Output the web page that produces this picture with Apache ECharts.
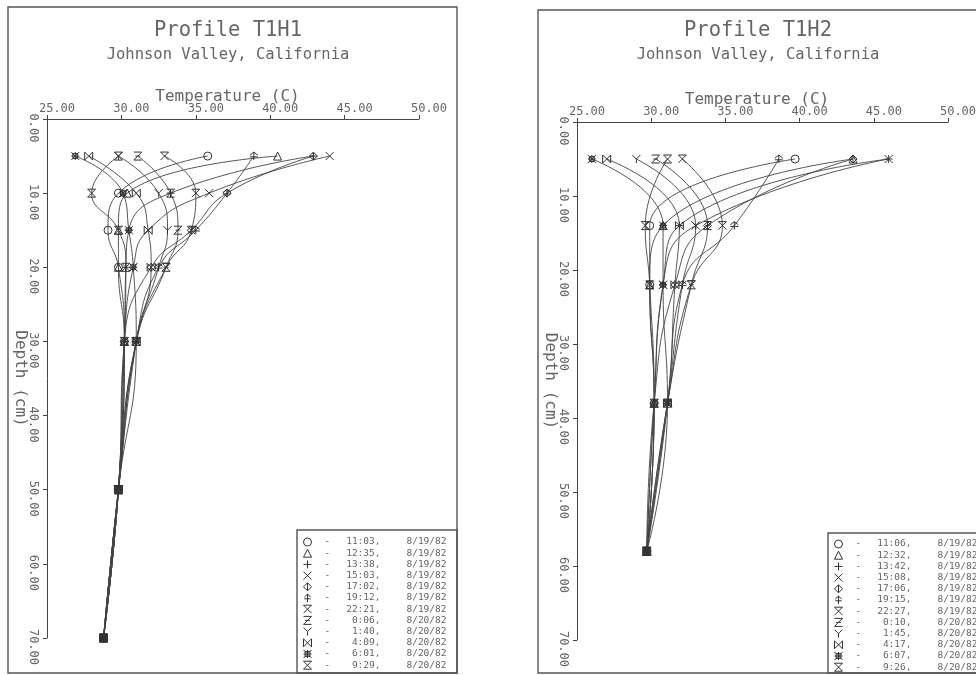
<!DOCTYPE html>
<html>
<head>
<meta charset="utf-8">
<script src="https://cdn.jsdelivr.net/npm/echarts@6/dist/echarts.min.js"></script>
<style>
  html, body { margin: 0; background: #fff; }
  #chart { width: 976px; height: 675px; }
</style>
</head>
<body>
<div id="chart"></div>
<script>
// depths (cm) sampled in each profile
const depthsH1 = [5, 10, 15, 20, 30, 50, 70]
const depthsH2 = [5, 14, 22, 38, 58]

const timesH1 = ['11:03', '12:35', '13:38', '15:03', '17:02', '19:12', '22:21', '0:06', '1:40', '4:09', '6:01', '9:29']
const datesH1 = ['8/19/82', '8/19/82', '8/19/82', '8/19/82', '8/19/82', '8/19/82', '8/19/82', '8/20/82', '8/20/82', '8/20/82', '8/20/82', '8/20/82']
const timesH2 = ['11:06', '12:32', '13:42', '15:08', '17:06', '19:15', '22:27', '0:10', '1:45', '4:17', '6:07', '9:26']
const datesH2 = datesH1

// temperature (C) at each depth, one row per time
const tempsH1 = [
  [35.8, 29.8, 29.1, 29.8, 30.2, 29.8, 28.8],
  [40.5, 30.4, 29.8, 29.8, 30.2, 29.8, 28.8],
  [42.9, 33.3, 30.5, 30.3, 30.2, 29.8, 28.8],
  [44.0, 35.9, 31.8, 30.8, 30.2, 29.8, 28.8],
  [42.9, 37.1, 34.7, 32.0, 30.2, 29.8, 28.8],
  [38.9, 37.1, 35.0, 32.5, 31.0, 29.8, 28.8],
  [32.9, 35.0, 34.7, 33.0, 31.0, 29.8, 28.8],
  [31.1, 33.3, 33.8, 33.0, 31.0, 29.8, 28.8],
  [29.8, 32.5, 33.1, 32.5, 31.0, 29.8, 28.8],
  [27.8, 31.0, 31.8, 32.0, 31.0, 29.8, 28.8],
  [26.9, 30.1, 30.5, 30.8, 31.0, 29.8, 28.8],
  [29.8, 28.0, 29.8, 30.3, 30.2, 29.8, 28.8]
]
const tempsH2 = [
  [39.7, 29.9, 29.9, 30.2, 29.7],
  [43.6, 30.8, 29.9, 30.2, 29.7],
  [46.0, 31.9, 30.8, 30.2, 29.7],
  [46.0, 33.0, 30.8, 30.2, 29.7],
  [43.6, 33.8, 31.6, 30.2, 29.7],
  [38.6, 35.6, 32.1, 31.1, 29.7],
  [32.1, 34.8, 32.7, 31.1, 29.7],
  [30.3, 33.8, 32.7, 31.1, 29.7],
  [29.0, 33.0, 32.1, 31.1, 29.7],
  [27.0, 31.9, 31.6, 31.1, 29.7],
  [26.0, 30.8, 30.8, 31.1, 29.7],
  [31.1, 29.6, 29.9, 30.2, 29.7]
]

const tempTicks = [25, 50, 5]
const depthTicks = [0, 70, 10]

// plotter marks, same order as the times
const marks = [
  'path://M0,5A5,5,0,1,0,10,5A5,5,0,1,0,0,5Z',
  'path://M5,0L10,10L0,10Z',
  'path://M5,0L5,10M0,5L10,5',
  'path://M0,0L10,10M10,0L0,10',
  'path://M5,0L10,5L5,10L0,5ZM5,0L5,10',
  'path://M5,0L5,10M1,6L9,6M1,4L5,0L9,4',
  'path://M0,0L10,0M0,0L10,10M10,0L0,10',
  'path://M0,0L10,0L0,10L10,10M2,5L8,5',
  'path://M0,0L5,5L10,0M5,5L5,10',
  'path://M0,0L0,10M10,0L10,10M0,0L10,10M10,0L0,10',
  'path://M0,0L10,10M10,0L0,10M5,0L5,10M0,5L10,5M2,2L8,2L8,8L2,8Z',
  'path://M0,0L10,0M0,10L10,10M0,0L10,10M10,0L0,10'
]

const FONT = 'DejaVu Sans Mono'
const TXT = '#666'
const INK = '#444'

const chart = echarts.init(document.getElementById('chart'))

const mkX = (idx) => ({
  gridIndex: idx, type: 'value', position: 'top',
  min: tempTicks[0], max: tempTicks[1], interval: tempTicks[2],
  name: 'Temperature (C)', nameLocation: 'middle', nameGap: 14, nameMoveOverlap: false,
  nameTextStyle: { fontFamily: FONT, fontSize: 16, color: TXT, padding: [0, 11, 0, 0] },
  axisLine: { show: true, onZero: false, lineStyle: { color: INK, width: 1 } },
  axisTick: { show: true, length: 4, lineStyle: { color: INK } },
  axisLabel: { formatter: v => v.toFixed(2), fontFamily: FONT, fontSize: 12, color: TXT, margin: 4, padding: [0, 0, 0, 20] },
  splitLine: { show: false }
})

const mkY = (idx) => ({
  gridIndex: idx, type: 'value', inverse: true,
  min: depthTicks[0], max: depthTicks[1], interval: depthTicks[2],
  name: 'Depth (cm)', nameLocation: 'middle', nameRotate: -90, nameGap: 19, nameMoveOverlap: false,
  nameTextStyle: { fontFamily: FONT, fontSize: 16, color: TXT },
  axisLine: { show: true, onZero: false, lineStyle: { color: INK, width: 1 } },
  axisTick: { show: true, length: 4, lineStyle: { color: INK } },
  axisLabel: { formatter: v => v.toFixed(2), rotate: -90, fontFamily: FONT, fontSize: 12, color: TXT, margin: 8, padding: [0, 0, 0, 18] },
  splitLine: { show: false }
})

const mkSeries = (temps, depths, times, dates, idx) => temps.map((row, i) => ({
  name: times[i] + ', ' + dates[i],
  type: 'line', xAxisIndex: idx, yAxisIndex: idx,
  data: row.map((t, j) => [t, depths[j]]),
  smooth: 0.5,
  symbol: marks[i], symbolSize: 8,
  lineStyle: { color: INK, width: 0.9 },
  itemStyle: { color: 'rgba(0,0,0,0)', borderColor: '#333', borderWidth: 1 },
  emphasis: { disabled: true }
}))

const legendRich = {
  s: { width: 8 },
  a: { fontFamily: FONT, fontSize: 9.5, color: TXT, width: 14 },
  t: { fontFamily: FONT, fontSize: 9.5, color: TXT, width: 42, align: 'right' },
  d: { fontFamily: FONT, fontSize: 9.5, color: TXT, width: 66, align: 'right' }
}

const mkLegend = (times, dates, left, top) => ({
  data: times.map((t, i) => ({ name: t + ', ' + dates[i], icon: marks[i] })),
  orient: 'vertical', left: left, top: top, padding: 0,
  itemWidth: 8, itemHeight: 8, itemGap: 1.2,
  selectedMode: false,
  itemStyle: { color: 'rgba(0,0,0,0)', borderColor: '#333', borderWidth: 1 },
  formatter: name => {
    const [t, d] = name.split(', ')
    return '{s| }{a|-}{t|' + t + ',}{d|' + d + '}'
  },
  textStyle: { fontFamily: FONT, fontSize: 9, color: TXT, lineHeight: 10, rich: legendRich }
})

const mkTitle = (text, center) => ({
  text: text, subtext: 'Johnson Valley, California',
  left: center, top: 20, textAlign: 'center', padding: 0, itemGap: 6,
  textStyle: { fontFamily: FONT, fontSize: 20.5, fontWeight: 'normal', color: TXT },
  subtextStyle: { fontFamily: FONT, fontSize: 15.5, color: TXT }
})

const frame = (x, y, w, h) => ({
  type: 'rect', silent: true,
  shape: { x: x, y: y, width: w, height: h },
  style: { fill: 'none', stroke: '#555', lineWidth: 1.4 }
})

const option = {
  animation: false,
  backgroundColor: '#fff',
  title: [mkTitle('Profile T1H1', 228), mkTitle('Profile T1H2', 758)],
  grid: [
    { left: 47, top: 119, width: 372, height: 519, outerBoundsMode: 'none' },
    { left: 577, top: 122, width: 371, height: 518, outerBoundsMode: 'none' }
  ],
  xAxis: [mkX(0), mkX(1)],
  yAxis: [mkY(0), mkY(1)],
  legend: [mkLegend(timesH1, datesH1, 303, 537), mkLegend(timesH2, datesH2, 834, 539)],
  graphic: [
    frame(8, 7, 449, 666),
    frame(538, 10, 470, 663),
    frame(297, 530, 160, 143),
    frame(828, 533, 180, 140)
  ],
  series: [
    ...mkSeries(tempsH1, depthsH1, timesH1, datesH1, 0),
    ...mkSeries(tempsH2, depthsH2, timesH2, datesH2, 1)
  ]
}

chart.setOption(option)
window.addEventListener('resize', () => chart.resize())
</script>
</body>
</html>
